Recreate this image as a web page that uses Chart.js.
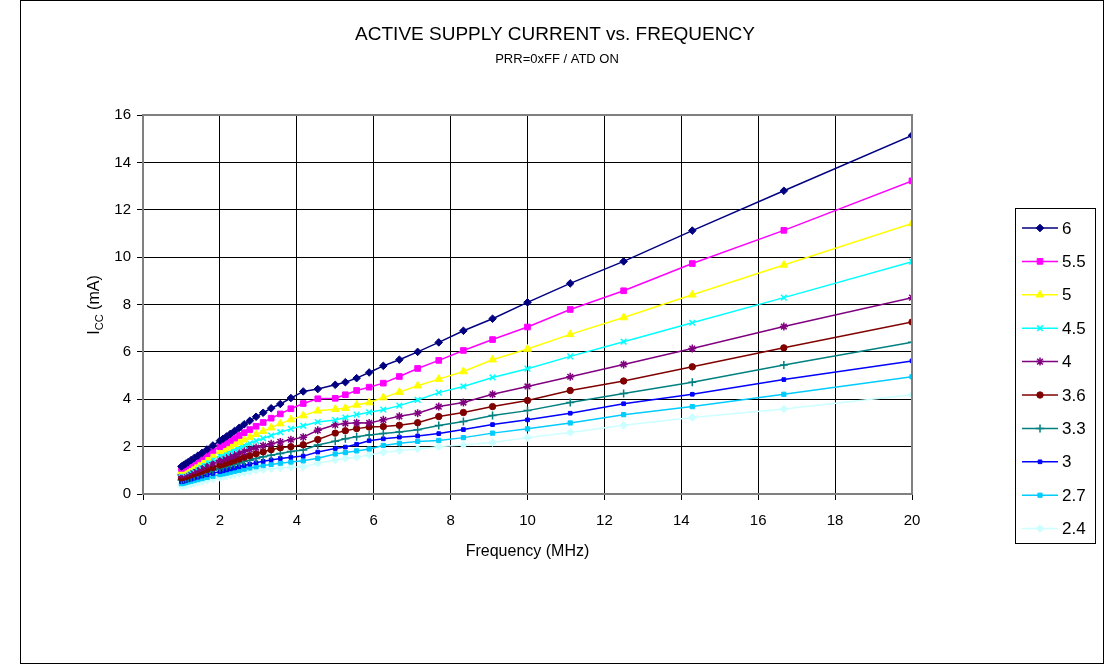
<!DOCTYPE html>
<html>
<head>
<meta charset="utf-8">
<script src="https://cdn.jsdelivr.net/npm/chart.js@4/dist/chart.umd.min.js"></script>
<style>
  html, body { margin: 0; padding: 0; background: #fff; }
  #wrap { position: relative; width: 1107px; height: 666px; }
  #frame { position: absolute; left: 20px; top: 0; width: 1082px; height: 662px; border: 1px solid #000; pointer-events: none; }
  canvas { position: absolute; left: 0; top: 0; }
</style>
</head>
<body>
<div id="wrap">
  <canvas id="iccChart" width="1107" height="666"></canvas>
  <div id="frame"></div>
</div>
<script>
// frequency points (MHz)
const freqMHz = [1.0, 1.053, 1.111, 1.176, 1.25, 1.333, 1.429, 1.538, 1.667, 1.818,
  2.0, 2.083, 2.174, 2.273, 2.381, 2.5, 2.632, 2.778, 2.941, 3.125,
  3.333, 3.571, 3.846, 4.167, 4.545, 5.0, 5.263, 5.556, 5.882, 6.25,
  6.667, 7.143, 7.692, 8.333, 9.091, 10.0, 11.111, 12.5, 14.286, 16.667, 20.0];

// Icc (mA) per supply voltage
const icc6v0 = [1.16, 1.22, 1.28, 1.35, 1.43, 1.52, 1.62, 1.74, 1.88, 2.05,
  2.25, 2.33, 2.43, 2.54, 2.66, 2.79, 2.94, 3.09, 3.26, 3.43,
  3.62, 3.80, 4.05, 4.33, 4.43, 4.61, 4.72, 4.89, 5.13, 5.41,
  5.67, 6.00, 6.40, 6.89, 7.40, 8.09, 8.89, 9.82, 11.12, 12.80, 15.14];
const icc5v5 = [1.08, 1.13, 1.18, 1.24, 1.31, 1.39, 1.48, 1.58, 1.70, 1.84,
  2.00, 2.08, 2.16, 2.26, 2.36, 2.47, 2.59, 2.72, 2.86, 3.02,
  3.20, 3.38, 3.60, 3.82, 4.02, 4.04, 4.19, 4.37, 4.51, 4.68,
  4.96, 5.30, 5.64, 6.06, 6.52, 7.05, 7.79, 8.58, 9.73, 11.13, 13.22];
const icc5v0 = [0.97, 1.02, 1.07, 1.12, 1.18, 1.25, 1.33, 1.42, 1.53, 1.65,
  1.80, 1.87, 1.94, 2.02, 2.10, 2.19, 2.29, 2.40, 2.52, 2.65,
  2.80, 2.97, 3.14, 3.31, 3.51, 3.58, 3.62, 3.76, 3.86, 4.07,
  4.30, 4.57, 4.85, 5.17, 5.67, 6.12, 6.74, 7.45, 8.41, 9.67, 11.42];
const icc4v5 = [0.89, 0.93, 0.97, 1.02, 1.07, 1.13, 1.20, 1.28, 1.37, 1.48,
  1.62, 1.68, 1.74, 1.81, 1.88, 1.96, 2.05, 2.14, 2.24, 2.35,
  2.47, 2.61, 2.75, 2.88, 3.04, 3.12, 3.23, 3.35, 3.45, 3.56,
  3.73, 3.97, 4.28, 4.54, 4.92, 5.29, 5.81, 6.43, 7.23, 8.29, 9.81];
const icc4v0 = [0.80, 0.83, 0.87, 0.91, 0.96, 1.01, 1.07, 1.14, 1.22, 1.31,
  1.42, 1.47, 1.53, 1.59, 1.65, 1.72, 1.80, 1.88, 1.96, 2.04,
  2.12, 2.20, 2.29, 2.40, 2.69, 2.92, 2.98, 3.01, 3.00, 3.13,
  3.28, 3.41, 3.69, 3.86, 4.21, 4.54, 4.95, 5.47, 6.14, 7.07, 8.29];
const icc3v6 = [0.68, 0.71, 0.74, 0.77, 0.81, 0.86, 0.91, 0.97, 1.04, 1.12,
  1.22, 1.26, 1.31, 1.36, 1.42, 1.48, 1.55, 1.62, 1.70, 1.78,
  1.87, 1.95, 2.00, 2.08, 2.30, 2.57, 2.67, 2.76, 2.83, 2.85,
  2.90, 3.01, 3.27, 3.44, 3.69, 3.95, 4.37, 4.77, 5.37, 6.17, 7.26];
const icc3v3 = [0.59, 0.62, 0.65, 0.68, 0.72, 0.76, 0.81, 0.86, 0.92, 0.99,
  1.08, 1.12, 1.16, 1.21, 1.26, 1.31, 1.37, 1.43, 1.50, 1.57,
  1.64, 1.71, 1.79, 1.86, 2.07, 2.23, 2.33, 2.42, 2.49, 2.55,
  2.62, 2.71, 2.89, 3.06, 3.31, 3.52, 3.86, 4.24, 4.72, 5.45, 6.41];
const icc3v0 = [0.52, 0.54, 0.57, 0.60, 0.63, 0.67, 0.71, 0.76, 0.81, 0.87,
  0.95, 0.98, 1.02, 1.06, 1.10, 1.15, 1.20, 1.26, 1.32, 1.38,
  1.44, 1.50, 1.55, 1.60, 1.77, 1.92, 1.98, 2.10, 2.25, 2.33,
  2.40, 2.45, 2.55, 2.72, 2.93, 3.13, 3.41, 3.81, 4.21, 4.83, 5.62];
const icc2v7 = [0.44, 0.46, 0.48, 0.51, 0.54, 0.57, 0.61, 0.65, 0.70, 0.75,
  0.82, 0.85, 0.88, 0.92, 0.96, 1.00, 1.05, 1.10, 1.15, 1.20,
  1.25, 1.30, 1.35, 1.40, 1.51, 1.69, 1.75, 1.82, 1.90, 2.05,
  2.14, 2.22, 2.26, 2.38, 2.57, 2.75, 3.00, 3.35, 3.69, 4.21, 4.95];
const icc2v4 = [0.34, 0.36, 0.38, 0.40, 0.43, 0.46, 0.50, 0.54, 0.59, 0.64,
  0.70, 0.73, 0.76, 0.79, 0.83, 0.87, 0.91, 0.95, 0.99, 1.03,
  1.07, 1.10, 1.13, 1.15, 1.30, 1.44, 1.51, 1.55, 1.65, 1.76,
  1.83, 1.90, 2.00, 2.07, 2.17, 2.38, 2.60, 2.90, 3.23, 3.59, 4.19];

const seriesLabels = ['6', '5.5', '5', '4.5', '4', '3.6', '3.3', '3', '2.7', '2.4'];
const seriesValues = [icc6v0, icc5v5, icc5v0, icc4v5, icc4v0, icc3v6, icc3v3, icc3v0, icc2v7, icc2v4];
const xTicks = [0, 20, 2];   // min, max, step
const yTicks = [0, 16, 2];

const colors = ['#000080', '#FF00FF', '#FFFF00', '#00FFFF', '#800080', '#800000', '#008080', '#0000FF', '#00CCFF', '#CCFFFF'];
const markers = [
  { style: 'rectRot', r: 3.8 },
  { style: 'rect', r: 4 },
  { style: 'triangle', r: 4.5 },
  { style: 'crossRot', r: 4 },
  { style: 'star', r: 4 },
  { style: 'circle', r: 3.2 },
  { style: 'cross', r: 4 },
  { style: 'rect', r: 2.6 },
  { style: 'rect', r: 3 },
  { style: 'rectRot', r: 3.8 }
];

const FONT = '"Liberation Sans", Arial, sans-serif';

var datasets = seriesValues.map(function (vals, i) {
    return {
        label: seriesLabels[i],
        data: vals.map(function (v, k) { return { x: freqMHz[k], y: v }; }),
        borderColor: colors[i],
        backgroundColor: colors[i],
        borderWidth: 1.5,
        showLine: true,
        tension: 0,
        pointStyle: markers[i].style,
        pointRadius: markers[i].r,
        pointBorderWidth: (markers[i].style.indexOf('cross') === 0 || markers[i].style === 'star') ? 1.5 : 1,
        order: i
    };
});

// titles, axis titles and legend box drawn on the canvas
var decorations = {
    id: 'decorations',
    afterDraw: function (chart) {
        var ctx = chart.ctx;
        var area = chart.chartArea;
        ctx.save();

        // gray plot border
        ctx.strokeStyle = '#808080';
        ctx.lineWidth = 2;
        ctx.strokeRect(area.left, area.top, area.right - area.left, area.bottom - area.top);

        ctx.fillStyle = '#000';
        ctx.textAlign = 'center';
        ctx.textBaseline = 'middle';
        ctx.font = '19px ' + FONT;
        ctx.fillText('ACTIVE SUPPLY CURRENT vs. FREQUENCY', 555, 35);
        ctx.font = '13px ' + FONT;
        ctx.fillText('PRR=0xFF / ATD ON', 557, 59);
        ctx.font = '16px ' + FONT;
        ctx.fillText('Frequency (MHz)', (area.left + area.right) / 2, 552);

        // y title with subscript
        ctx.translate(94, 305);
        ctx.rotate(-Math.PI / 2);
        ctx.textAlign = 'left';
        ctx.textBaseline = 'alphabetic';
        var big = '16px ' + FONT, small = '11px ' + FONT;
        ctx.font = big; var wI = ctx.measureText('I').width;
        ctx.font = small; var wCC = ctx.measureText('CC').width;
        ctx.font = big; var wRest = ctx.measureText(' (mA)').width;
        var x0 = -(wI + wCC + wRest) / 2;
        ctx.font = big; ctx.fillText('I', x0, 5);
        ctx.font = small; ctx.fillText('CC', x0 + wI, 9);
        ctx.font = big; ctx.fillText(' (mA)', x0 + wI + wCC, 5);
        ctx.restore();

        // legend
        ctx.save();
        ctx.strokeStyle = '#000';
        ctx.lineWidth = 1;
        ctx.strokeRect(1015.5, 208.5, 80, 335);
        ctx.font = '17px ' + FONT;
        ctx.textAlign = 'left';
        ctx.textBaseline = 'middle';
        var drawPoint = Chart.helpers && Chart.helpers.drawPoint;
        for (var i = 0; i < seriesLabels.length; i++) {
            var y = 228 + i * 33.4;
            ctx.strokeStyle = colors[i];
            ctx.fillStyle = colors[i];
            ctx.lineWidth = 1.5;
            ctx.beginPath();
            ctx.moveTo(1022, y);
            ctx.lineTo(1058, y);
            ctx.stroke();
            if (drawPoint) {
                ctx.lineWidth = datasets[i].pointBorderWidth;
                drawPoint(ctx, { pointStyle: markers[i].style, radius: markers[i].r, rotation: 0, borderWidth: datasets[i].pointBorderWidth }, 1040, y);
            }
            ctx.fillStyle = '#000';
            ctx.fillText(seriesLabels[i], 1062, y + 1);
        }
        ctx.restore();
    }
};

var ctx = document.getElementById('iccChart').getContext('2d');
window.iccChart = new Chart(ctx, {
    type: 'scatter',
    data: { datasets: datasets },
    options: {
        responsive: false,
        animation: false,
        devicePixelRatio: 1,
        layout: { padding: { left: 91, right: 195, top: 115, bottom: 132 } },
        plugins: {
            legend: { display: false },
            title: { display: false },
            tooltip: { enabled: false }
        },
        scales: {
            x: {
                type: 'linear',
                min: xTicks[0],
                max: xTicks[1],
                afterFit: function (scale) { scale.height = 40; },
                ticks: { stepSize: xTicks[2], color: '#000', font: { family: FONT, size: 15 }, padding: 12 },
                grid: { color: '#000', lineWidth: 1, tickLength: 6, drawTicks: true },
                border: { color: '#808080', width: 2 }
            },
            y: {
                min: yTicks[0],
                max: yTicks[1],
                afterFit: function (scale) { scale.width = 52; },
                ticks: { stepSize: yTicks[2], color: '#000', font: { family: FONT, size: 15 }, padding: 6 },
                grid: { color: '#000', lineWidth: 1, tickLength: 6, drawTicks: true },
                border: { color: '#808080', width: 2 }
            }
        }
    },
    plugins: [decorations]
});
</script>
</body>
</html>
